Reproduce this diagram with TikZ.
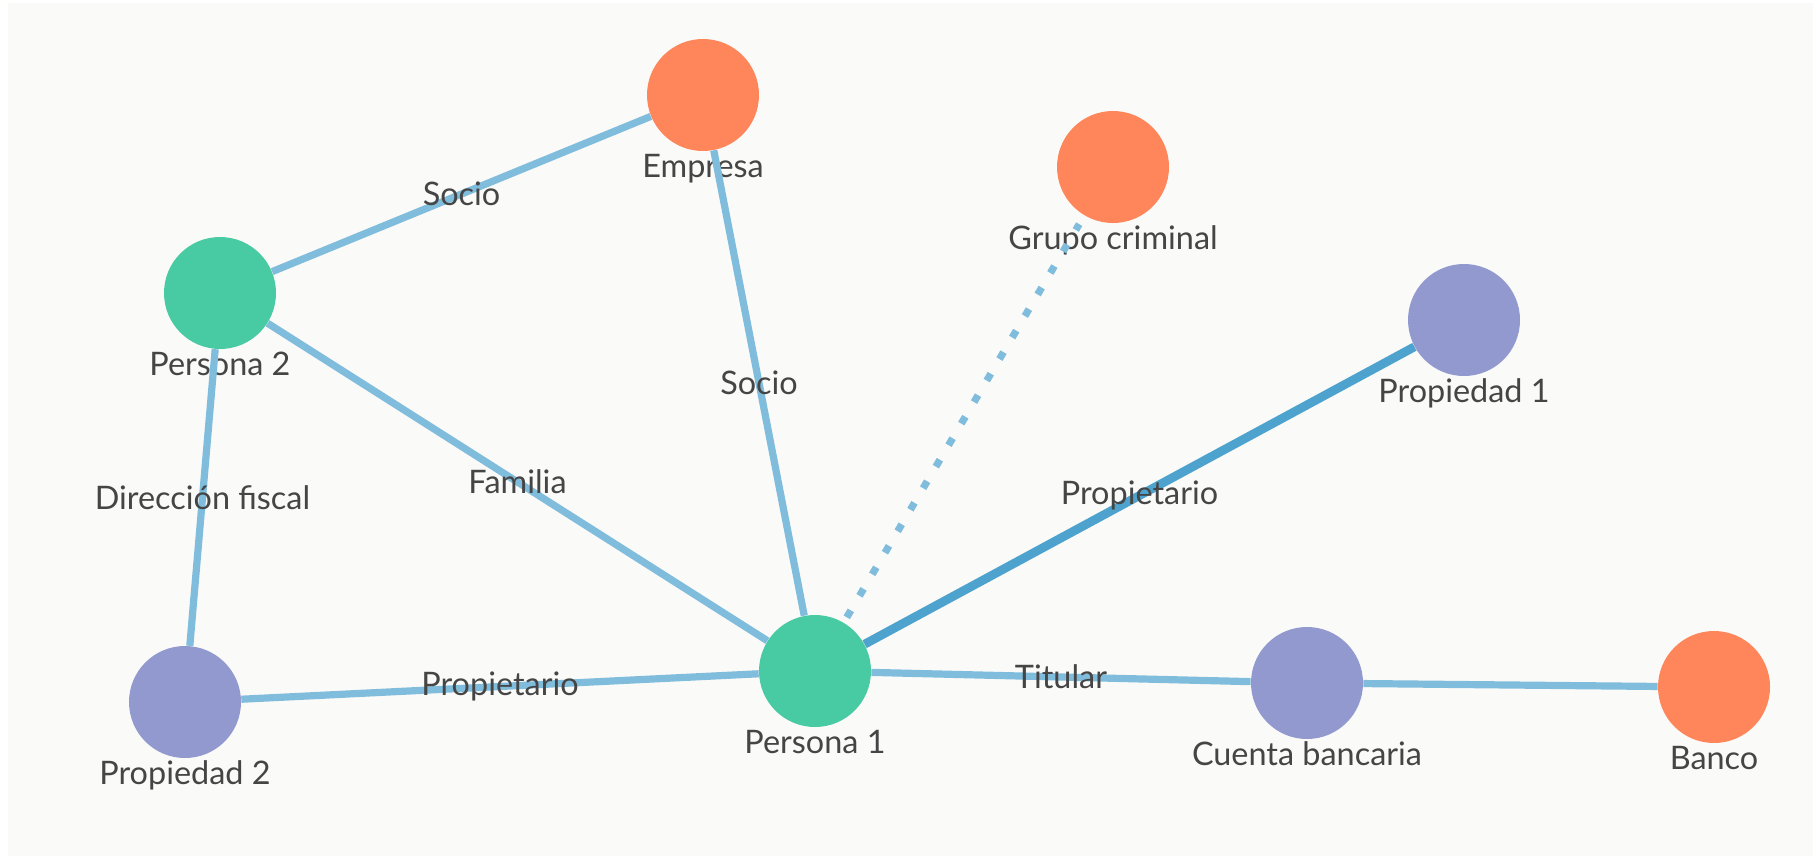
\documentclass[tikz,border=0pt]{standalone}
\usepackage{fontspec}
\setmainfont{Lato}
\usepackage{xcolor}
\usetikzlibrary{positioning}

\definecolor{naranja}{HTML}{FF865A}
\definecolor{verde}{HTML}{48CAA2}
\definecolor{lila}{HTML}{9199CE}
\definecolor{enlace}{HTML}{80BCDC}
\definecolor{enlaceosc}{HTML}{4DA3CD}
\definecolor{texto}{HTML}{454545}
\definecolor{fondo}{HTML}{FAFAF8}

\tikzset{
  ent/.style={circle, minimum size=56pt, inner sep=0pt},
  nombre/.style={text=texto, font=\fontsize{16.2}{19}\selectfont, anchor=base, inner sep=0pt},
  arista/.style={enlace, line width=3.6pt},
  etq/.style={text=texto, font=\fontsize{16.2}{19}\selectfont, inner sep=0pt}
}

\begin{document}
\begin{tikzpicture}[x=0.5pt, y=-0.5pt]
  \useasboundingbox (0,0) rectangle (1813,856);
  \fill[fondo] (8,3) rectangle (1813,856);

  % entidades
  \node[ent, fill=naranja] (empresa) at (703,95) {};
  \node[ent, fill=naranja] (grupo) at (1113,167) {};
  \node[ent, fill=verde] (persona2) at (220,293) {};
  \node[ent, fill=lila] (propiedad1) at (1464,320) {};
  \node[ent, fill=verde] (persona1) at (815,671) {};
  \node[ent, fill=lila] (propiedad2) at (185,702) {};
  \node[ent, fill=lila] (cuenta) at (1307,683) {};
  \node[ent, fill=naranja] (banco) at (1714,687) {};

  % nombres
  \node[nombre] (empresa-n) at ([yshift=-41pt]empresa) {Empresa};
  \node[nombre] (grupo-n) at ([yshift=-41pt]grupo) {Grupo criminal};
  \node[nombre] (persona2-n) at ([yshift=-41pt]persona2) {Persona 2};
  \node[nombre] (propiedad1-n) at ([yshift=-41pt]propiedad1) {Propiedad 1};
  \node[nombre] (persona1-n) at ([yshift=-41pt]persona1) {Persona 1};
  \node[nombre] (propiedad2-n) at ([yshift=-41pt]propiedad2) {Propiedad 2};
  \node[nombre] (cuenta-n) at ([yshift=-41pt]cuenta) {Cuenta bancaria};
  \node[nombre] (banco-n) at ([yshift=-41pt]banco) {Banco};

  % relaciones
  \draw[arista] (persona2) -- node[etq] {Socio} (empresa);
  \draw[arista] (empresa) -- node[etq] {Socio} (persona1);
  \draw[arista] (persona2) -- node[etq] {Familia} (persona1);
  \draw[arista] (persona2) -- node[etq] {Dirección fiscal} (propiedad2);
  \draw[arista] (propiedad2) -- node[etq] {Propietario} (persona1);
  \draw[arista] (persona1) -- node[etq] {Titular} (cuenta);
  \draw[arista] (cuenta) -- (banco);
  \draw[arista, enlaceosc, line width=4.4pt] (persona1) -- node[etq] {Propietario} (propiedad1);
  \draw[arista, dash pattern=on 4pt off 8.5pt, shorten <=3pt, shorten >=5pt] (persona1) -- (grupo);
\end{tikzpicture}
\end{document}
